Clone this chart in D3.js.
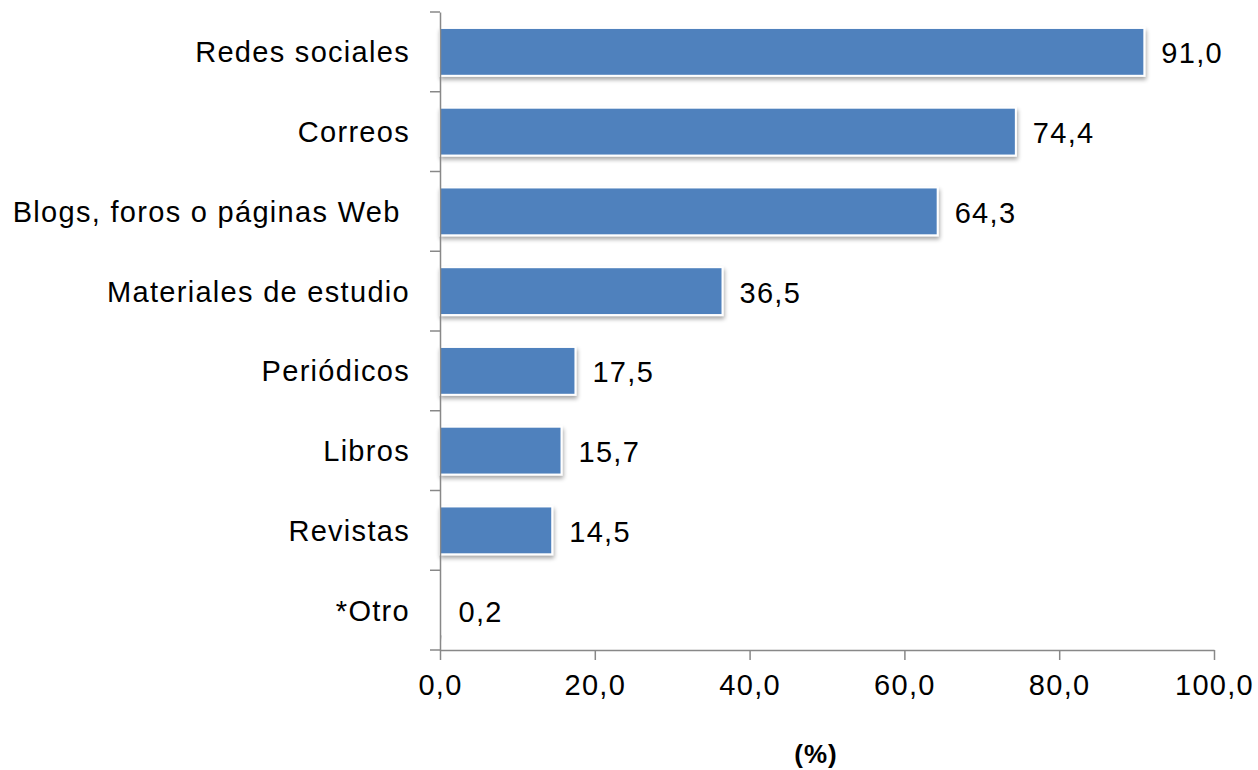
<!DOCTYPE html>
<html><head><meta charset="utf-8">
<script src="https://cdn.jsdelivr.net/npm/d3@7"></script>
<style>body{margin:0;background:#fff;} text{font-family:"Liberation Sans",Arial,sans-serif;}</style>
</head><body>
<svg id="c" width="1258" height="770"></svg>
<script>
const categories = ["Redes sociales","Correos","Blogs, foros o páginas Web ","Materiales de estudio","Periódicos","Libros","Revistas","*Otro"];
const values = [91.0,74.4,64.3,36.5,17.5,15.7,14.5,0.2];
const xTicks = [0,20,40,60,80,100];
const xTitle = "(%)";

const svg = d3.select("#c");
const x = d3.scaleLinear().domain([0,100]).range([440,1214]);
const y = d3.scaleBand().domain(categories).range([12,650]).paddingInner(0.4).paddingOuter(0.2);
const fmt = d => d3.format(".1f")(d).replace(".", ",");
const FS = 29, LS = 1.3;

const defs = svg.append("defs");
const f = defs.append("filter").attr("id","sh").attr("x","-5%").attr("y","-20%").attr("width","115%").attr("height","160%");
f.append("feGaussianBlur").attr("in","SourceAlpha").attr("stdDeviation",2);
f.append("feOffset").attr("dx",1).attr("dy",3).attr("result","ob");
f.append("feComponentTransfer").append("feFuncA").attr("type","linear").attr("slope",0.35);
const m = f.append("feMerge"); m.append("feMergeNode"); m.append("feMergeNode").attr("in","SourceGraphic");

// bars
svg.append("g").selectAll("rect").data(values).join("rect")
  .attr("x", x(0)).attr("y", (d,i)=>y(categories[i]))
  .attr("width", d=>x(d)-x(0)).attr("height", y.bandwidth())
  .attr("fill","#4F81BD").attr("stroke","#fff").attr("stroke-width",2)
  .attr("filter","url(#sh)");

// value labels
svg.append("g").selectAll("text").data(values).join("text")
  .attr("x", d=>x(d)+17).attr("y",(d,i)=>y(categories[i])+y.bandwidth()/2+1)
  .attr("dy","0.36em").attr("font-size",FS).attr("letter-spacing",LS).attr("fill","#000").text(fmt);

// y axis
const yAxis = d3.axisLeft(y).tickSize(0).tickPadding(30);
const gy = svg.append("g").attr("transform","translate(440,0)").call(yAxis);
gy.select(".domain").attr("stroke","#888").attr("stroke-width",1.5);
gy.selectAll("text").attr("font-size",FS).attr("letter-spacing",LS).attr("fill","#000")
  .style("white-space","pre")
  .attr("dy","0.36em").attr("font-family","Liberation Sans, Arial, sans-serif");
// y band boundary ticks
const step = y.step();
const bounds = d3.range(categories.length+1).map(i=>12+i*step);
svg.append("g").selectAll("line").data(bounds).join("line")
  .attr("x1",430).attr("x2",440).attr("y1",d=>d).attr("y2",d=>d)
  .attr("stroke","#888").attr("stroke-width",1.5);

// x axis
const xAxis = d3.axisBottom(x).tickValues(xTicks).tickFormat(fmt).tickSize(10).tickSizeOuter(0).tickPadding(14);
const gx = svg.append("g").attr("transform","translate(0,650)").call(xAxis);
gx.select(".domain").attr("stroke","#888").attr("stroke-width",1.5);
gx.selectAll("line").attr("stroke","#888").attr("stroke-width",1.5);
gx.selectAll("text").attr("font-size",FS).attr("letter-spacing",LS).attr("fill","#000")
  .attr("font-family","Liberation Sans, Arial, sans-serif");

svg.append("text").attr("x",816).attr("y",763).attr("text-anchor","middle")
  .attr("font-size",26).attr("font-weight","bold").attr("letter-spacing",1).text(xTitle);
</script>
</body></html>
